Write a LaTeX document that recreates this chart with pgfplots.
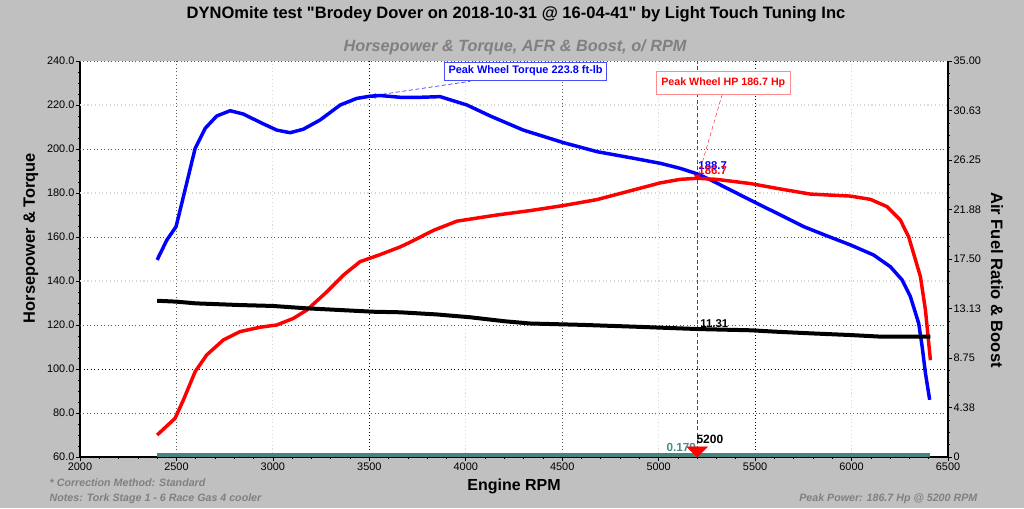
\documentclass[border=0pt]{standalone}
\usepackage{pgfplots}
\pgfplotsset{compat=1.18}
\usetikzlibrary{arrows.meta}
\usepackage{fontspec}
\setmainfont{Liberation Sans}
\newfontfamily\plainfont{Liberation Sans}
\definecolor{bg}{RGB}{192,192,192}
\definecolor{tq}{RGB}{0,0,255}
\definecolor{hp}{RGB}{255,0,0}
\definecolor{boost}{RGB}{74,130,128}
\definecolor{boosttxt}{RGB}{70,140,140}
\definecolor{sub}{RGB}{128,128,128}
\definecolor{lgrid}{RGB}{215,215,215}
\definecolor{dgrid}{RGB}{90,90,90}
\begin{document}
\begin{tikzpicture}[x=0.75pt,y=0.75pt]
\fill[bg] (0,0) rectangle (1024,508);
\begin{axis}[
  at={(60pt,38.25pt)}, anchor=south west, scale only axis,
  width=651pt, height=297pt,
  xmin=2000, xmax=6500, ymin=60, ymax=240,
  axis x line*=bottom, axis y line*=left,
  axis line style={black, line width=0.8pt, -},
  axis background/.style={fill=white},
  xtick={2000,2500,...,6500}, ytick={60,80,...,240},
  minor x tick num=4, minor y tick num=3,
  tick align=outside, major tick length=3pt, minor tick length=1.5pt,
  tick style={black, line width=0.5pt},
  xticklabel style={font=\fontsize{8.2}{9}\selectfont, inner sep=1pt, /pgf/number format/.cd, set thousands separator={}, assume math mode=true},
  yticklabel style={font=\fontsize{8.2}{9}\selectfont, inner sep=1pt, /pgf/number format/.cd, fixed, fixed zerofill, precision=1, assume math mode=true},
  xtick pos=bottom, ytick pos=left,
  grid=none, clip=false,
]
% grid lines
\pgfplotsinvokeforeach{3000,4000,5000,6000}{\draw[lgrid, dotted, line width=0.8pt] (axis cs:#1,60) -- (axis cs:#1,240);}
\pgfplotsinvokeforeach{220,180,140}{\draw[lgrid, dotted, line width=0.8pt] (axis cs:2000,#1) -- (axis cs:6500,#1);}
\pgfplotsinvokeforeach{2500,4500}{\draw[dgrid, dotted, line width=0.6pt] (axis cs:#1,60) -- (axis cs:#1,240);}
\pgfplotsinvokeforeach{3500,5500}{\draw[black, dotted, line width=0.6pt] (axis cs:#1,60) -- (axis cs:#1,240);}
\pgfplotsinvokeforeach{240,200,160,120,80}{\draw[dgrid, dotted, line width=0.6pt] (axis cs:2000,#1) -- (axis cs:6500,#1);}
\draw[black, dotted, line width=0.7pt] (axis cs:2000,100) -- (axis cs:6500,100);
\draw[hp, densely dashed, line width=0.4pt] (axis cs:5200,60) -- (axis cs:5200,240);
% torque
\addplot[tq, line width=2.6pt, line join=round] coordinates {
(2400,149.6) (2450,158.6) (2498,164.7) (2536,178.3) (2597,200.3) (2649,209.4)
(2709,215.0) (2778,217.4) (2847,215.9) (2934,212.1) (3020,208.6) (3089,207.4)
(3158,209.0) (3245,213.2) (3349,220.0) (3435,223.0) (3504,224.0) (3556,224.3)
(3660,223.5) (3764,223.5) (3867,223.8) (4006,220.0) (4127,215.0) (4298,208.6)
(4506,202.9) (4680,198.8) (4869,195.8) (5008,193.5) (5112,191.2) (5200,188.7)
(5268,186.0) (5475,176.8) (5613,170.8) (5752,164.7) (5873,160.5) (5994,156.4)
(6115,151.8) (6201,146.5) (6262,140.5) (6305,132.9) (6348,120.8) (6366,110.2)
(6383,98.1) (6405,86.0)
};
% horsepower
\addplot[hp, line width=2.6pt, line join=round] coordinates {
(2400,70.0) (2493,77.6) (2536,85.9) (2597,98.8) (2657,106.4) (2743,113.2)
(2830,117.0) (2934,119.0) (3020,120.0) (3106,123.0) (3176,126.8) (3280,135.1)
(3366,142.7) (3452,148.8) (3556,152.0) (3660,155.5) (3720,158.0) (3832,163.0)
(3954,167.2) (4161,170.0) (4334,172.0) (4506,174.3) (4680,177.0) (4853,181.0)
(5008,184.6) (5112,186.2) (5200,186.7) (5300,186.2) (5475,184.3) (5613,182.1)
(5787,179.5) (5994,178.6) (6098,177.1) (6184,173.8) (6253,167.7) (6296,160.1)
(6357,142.0) (6383,126.8) (6409,104.0)
};
\addplot[hp, only marks, mark=triangle*, mark size=2.5pt, mark options={rotate=180}] coordinates {(5200,187.5)};
% torque annotation
\draw[tq, densely dashed, line width=0.4pt] (axis cs:3500,224) -- (axis cs:4023,230.8);
\draw[tq, -{Stealth[length=5pt,width=4pt]}, line width=0.4pt] (axis cs:3560,224.2) -- (axis cs:3500,224);
\node[draw=tq!70, fill=white, text=tq, font=\bfseries\fontsize{8.2}{9}\selectfont, inner xsep=3pt, inner ysep=3pt, line width=0.4pt] at (axis cs:4310,235.4) {Peak Wheel Torque 223.8 ft-lb};
% hp annotation
\draw[hp, densely dashed, line width=0.3pt] (axis cs:5330,225) -- (axis cs:5210,189);
\node[draw=hp!45, fill=white, text=hp, font=\bfseries\fontsize{8}{9}\selectfont, inner xsep=4pt, inner ysep=5pt, line width=0.5pt] at (axis cs:5335,230) {Peak Wheel HP 186.7 Hp};
\node[text=tq, font=\bfseries\fontsize{8.5}{10}\selectfont, anchor=west, inner sep=0pt] at (axis cs:5205,192.6) {188.7};
\node[text=hp, font=\bfseries\fontsize{8.5}{10}\selectfont, anchor=west, inner sep=0pt] at (axis cs:5205,190.4) {186.7};
\end{axis}
\begin{axis}[
  at={(60pt,38.25pt)}, anchor=south west, scale only axis,
  width=651pt, height=297pt,
  xmin=2000, xmax=6500, ymin=0, ymax=35,
  axis x line=none, axis y line*=right,
  axis line style={black, line width=0.8pt, -},
  ytick={0,4.375,8.75,13.125,17.5,21.875,26.25,30.625,35},
  yticklabels={0,4.38,8.75,13.13,17.50,21.88,26.25,30.63,35.00},
  minor y tick num=3,
  tick align=outside, major tick length=3pt, minor tick length=1.5pt,
  tick style={black, line width=0.5pt},
  yticklabel style={font=\fontsize{8.2}{9}\selectfont, inner sep=1pt},
  ytick pos=right, clip=false,
]
% AFR
\addplot[black, line width=3pt, line join=round] coordinates {
(2400,13.81) (2500,13.73) (2600,13.58) (2830,13.43) (3000,13.35) (3176,13.14)
(3349,12.99) (3520,12.84) (3660,12.79) (3850,12.60) (4023,12.35) (4200,12.00)
(4334,11.80) (4600,11.68) (4905,11.50) (5200,11.31) (5475,11.20) (5613,11.07)
(5787,10.93) (5994,10.78) (6160,10.63) (6409,10.63)
};
% boost
\addplot[boost, line width=3pt] coordinates {(2400,0.18) (6409,0.18)};
\addplot[hp, only marks, mark=triangle*, mark size=8.7pt, mark options={rotate=180, yscale=0.58}] coordinates {(5200,0.59)};
\node[font=\bfseries\fontsize{8.5}{10}\selectfont, anchor=south west, inner sep=0pt] at (axis cs:5215,11.45) {11.31};
\node[font=\bfseries\fontsize{9}{10}\selectfont, anchor=south west, inner sep=0pt] at (axis cs:5195,1.15) {5200};
\node[text=boosttxt, font=\bfseries\fontsize{8.8}{10}\selectfont, anchor=south east, inner sep=0pt] at (axis cs:5195,0.45) {0.179};
\end{axis}
% titles and labels
\node[font=\plainfont\bfseries\fontsize{12.4}{14}\selectfont] at (516,494) {DYNOmite test "Brodey Dover on 2018-10-31 @ 16-04-41" by Light Touch Tuning Inc};
\node[text=sub, font=\bfseries\itshape\fontsize{12.2}{14}\selectfont] at (515,461) {Horsepower \& Torque, AFR \& Boost, o/ RPM};
\node[font=\bfseries\fontsize{12.3}{14}\selectfont, rotate=90] at (31,270) {Horsepower \& Torque};
\node[font=\bfseries\fontsize{12.4}{14}\selectfont, rotate=-90] at (997,228) {Air Fuel Ratio \& Boost};
\node[font=\bfseries\fontsize{12}{14}\selectfont] at (514,22) {Engine RPM};
\node[text=sub, font=\bfseries\itshape\fontsize{8}{9}\selectfont, anchor=west] at (45,25) {* Correction Method: Standard};
\node[text=sub, font=\bfseries\itshape\fontsize{8}{9}\selectfont, anchor=west] at (45,9) {Notes: Tork Stage 1 - 6 Race Gas 4 cooler};
\node[text=sub, font=\bfseries\itshape\fontsize{8}{9}\selectfont, anchor=east] at (982,9) {Peak Power: 186.7 Hp @ 5200 RPM};
\end{tikzpicture}
\end{document}
